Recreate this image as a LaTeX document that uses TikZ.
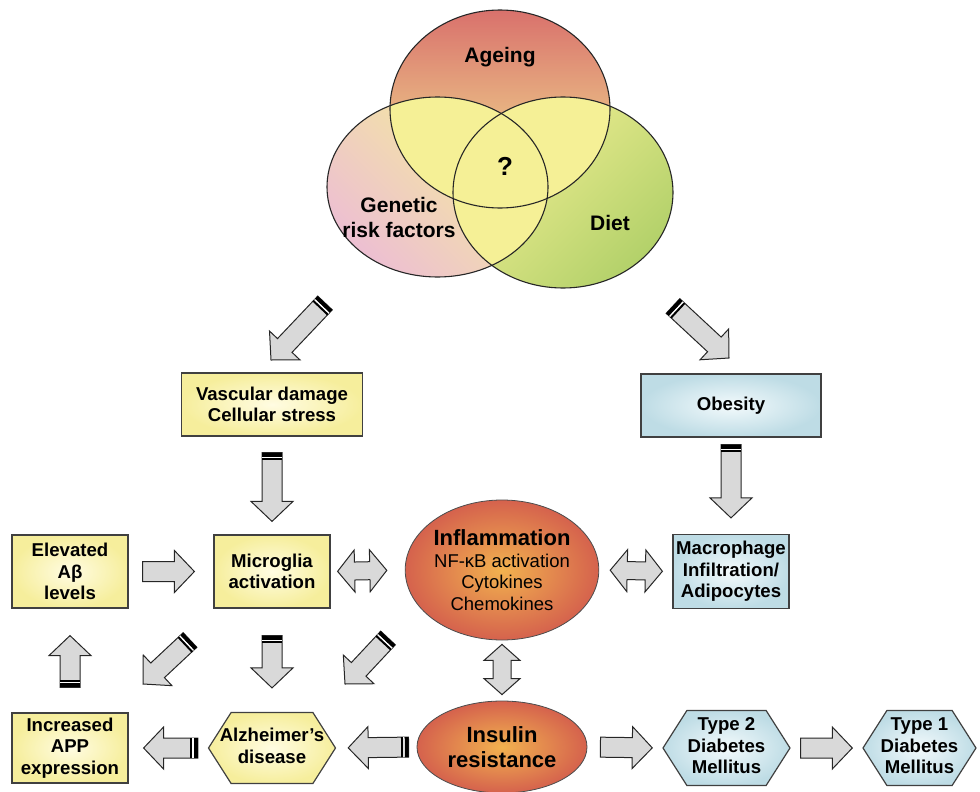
\documentclass[tikz,border=0pt]{standalone}
\usepackage{fontspec}
\setmainfont{Liberation Sans}
\usetikzlibrary{calc,shapes.geometric,shapes.symbols}

\definecolor{vennred}{HTML}{D9716C}
\definecolor{vennorange}{HTML}{F0C07C}
\definecolor{vennyel}{HTML}{F5F096}
\definecolor{vennpink}{HTML}{EDBFD2}
\definecolor{venngreen}{HTML}{B3D16A}
\definecolor{boxyel}{HTML}{F6EE9C}
\definecolor{boxyelin}{HTML}{FFFCE2}
\definecolor{boxblu}{HTML}{BEDCE5}
\definecolor{boxbluin}{HTML}{F3FAFC}
\definecolor{redout}{HTML}{D5624D}
\definecolor{redin}{HTML}{F2B24F}
\definecolor{arrowgray}{HTML}{D9D9D9}

\newif\iffatbands
\newif\iffattwo
\tikzset{
  tail gap/.store in=\fattail,
  tip gap/.store in=\fattip,
  fat gap/.style={tail gap=#1,tip gap=#1},
  shaft/.store in=\fatshaft,
  head/.store in=\fathead,
  head len/.store in=\fatlen,
  bands/.code={\fatbandstrue},
  both ends/.code={\fattwotrue},
  fatbody/.style={fill=arrowgray,draw=black!85,line width=1pt},
  boxtext/.style={font=\bfseries\fontsize{18.6}{21.5}\selectfont,align=center,inner sep=1pt},
  yelbox/.style={boxtext,rectangle,draw=black!75,line width=1.2pt,inner color=boxyelin,outer color=boxyel},
  blubox/.style={yelbox,inner color=boxbluin,outer color=boxblu},
  yelhex/.style={yelbox,signal,signal to=east and west,signal pointer angle=115},
  bluhex/.style={blubox,signal,signal to=east and west,signal pointer angle=115},
  redell/.style={ellipse,draw=black!70,line width=0.8pt,inner color=redin,outer color=redout,align=center,inner sep=0pt},
  venn/.style={draw=black!85,line width=1.1pt},
  vennlbl/.style={font=\bfseries\fontsize{21}{25}\selectfont,align=center},
}

% block arrow from #2 to #3
\newcommand{\fatarrow}[3][]{%
  \fatbandsfalse\fattwofalse
  \begin{scope}[fat gap=0pt,shaft=10pt,head=21pt,head len=20pt,#1]
    \coordinate (fa) at ($(#2)!\fattail!(#3)$);
    \coordinate (fb) at ($(#3)!\fattip!(#2)$);
    \coordinate (hb) at ($(fb)!\fatlen!(fa)$);
    \iffattwo
      \coordinate (ha) at ($(fa)!\fatlen!(fb)$);
      \draw[fatbody] (fa) -- ($(ha)!\fathead!90:(fb)$) -- ($(ha)!\fatshaft!90:(fb)$)
        -- ($(hb)!\fatshaft!90:(fb)$) -- ($(hb)!\fathead!90:(fb)$) -- (fb)
        -- ($(hb)!\fathead!-90:(fb)$) -- ($(hb)!\fatshaft!-90:(fb)$)
        -- ($(ha)!\fatshaft!-90:(fb)$) -- ($(ha)!\fathead!-90:(fb)$) -- cycle;
    \else
      \draw[fatbody] ($(fa)!\fatshaft!90:(fb)$) -- ($(hb)!\fatshaft!90:(fb)$)
        -- ($(hb)!\fathead!90:(fb)$) -- (fb) -- ($(hb)!\fathead!-90:(fb)$)
        -- ($(hb)!\fatshaft!-90:(fb)$) -- ($(fa)!\fatshaft!-90:(fb)$) -- cycle;
    \fi
    \iffatbands
      \coordinate (b1) at ($(fa)!4pt!(fb)$);
      \coordinate (b2) at ($(fa)!5.5pt!(fb)$);
      \coordinate (b3) at ($(fa)!7.5pt!(fb)$);
      \fill[black] ($(fa)!\fatshaft!90:(fb)$) -- ($(b1)!\fatshaft!90:(fb)$)
        -- ($(b1)!\fatshaft!-90:(fb)$) -- ($(fa)!\fatshaft!-90:(fb)$) -- cycle;
      \fill[white] ($(b1)!\fatshaft!90:(fb)$) -- ($(b2)!\fatshaft!90:(fb)$)
        -- ($(b2)!\fatshaft!-90:(fb)$) -- ($(b1)!\fatshaft!-90:(fb)$) -- cycle;
      \fill[black] ($(b2)!\fatshaft!90:(fb)$) -- ($(b3)!\fatshaft!90:(fb)$)
        -- ($(b3)!\fatshaft!-90:(fb)$) -- ($(b2)!\fatshaft!-90:(fb)$) -- cycle;
    \fi
  \end{scope}}
\newcommand{\hexlbl}[1]{\makebox[0pt]{\begin{tabular}{@{}c@{}}#1\end{tabular}}}

\begin{document}
\begin{tikzpicture}[x=1pt,y=-1pt]
  \useasboundingbox (0,0) rectangle (980,792);

  % risk factors
  \shade[top color=vennyel,bottom color=vennpink,shading angle=-45] (437.5,187) ellipse [x radius=110.5,y radius=90];
  \shade[top color=vennyel,bottom color=venngreen,shading angle=45] (563,192.5) ellipse [x radius=110,y radius=95.5];
  \shade[top color=vennred,middle color=vennorange,bottom color=vennyel] (500,109) ellipse [x radius=110,y radius=99];
  \begin{scope}
    \clip (500,109) ellipse [x radius=110,y radius=99];
    \fill[vennyel] (437.5,187) ellipse [x radius=110.5,y radius=90];
    \fill[vennyel] (563,192.5) ellipse [x radius=110,y radius=95.5];
  \end{scope}
  \begin{scope}
    \clip (437.5,187) ellipse [x radius=110.5,y radius=90];
    \fill[vennyel] (563,192.5) ellipse [x radius=110,y radius=95.5];
  \end{scope}
  \draw[venn] (437.5,187) ellipse [x radius=110.5,y radius=90];
  \draw[venn] (563,192.5) ellipse [x radius=110,y radius=95.5];
  \draw[venn] (500,109) ellipse [x radius=110,y radius=99];
  \node[vennlbl] (agelbl) at (500,57) {Ageing};
  \node[vennlbl,font=\bfseries\fontsize{26}{30}\selectfont] (qlbl) at (505,166) {?};
  \node[vennlbl] (genlbl) at (399,217) {Genetic\\risk factors};
  \node[vennlbl] (dietlbl) at (610,223) {Diet};

  % boxes
  \node[yelbox,minimum width=181pt,minimum height=63pt] (vasc) at (272,404.5) {Vascular damage\\Cellular stress};
  \node[blubox,minimum width=180pt,minimum height=63pt] (obes) at (731,405.5) {Obesity};
  \node[yelbox,minimum width=116pt,minimum height=73pt] (abeta) at (70,571.5) {Elevated\\Aβ\\levels};
  \node[yelbox,minimum width=116pt,minimum height=73pt] (micro) at (272,571.5) {Microglia\\activation};
  \node[redell,minimum width=188pt,minimum height=140pt,font=\fontsize{18.5}{21.5}\selectfont] (infl) at (502,570)
    {{\bfseries\fontsize{22}{24}\selectfont Inflammation}\\NF-κB activation\\Cytokines\\Chemokines};
  \node[blubox,minimum width=116pt,minimum height=74pt] (macro) at (731,571.5) {Macrophage\\Infiltration/\\Adipocytes};
  \node[yelbox,minimum width=116pt,minimum height=70pt] (app) at (70,748) {Increased\\APP\\expression};
  \node[yelhex,minimum width=127pt,minimum height=71pt] (alz) at (272,748) {\hexlbl{Alzheimer's\\disease}};
  \node[redell,minimum width=170pt,minimum height=92pt,font=\bfseries\fontsize{22}{25}\selectfont] (ins) at (502,747) {Insulin\\resistance};
  \node[bluhex,minimum width=127pt,minimum height=75pt] (t2) at (726.5,748) {\hexlbl{Type 2\\Diabetes\\Mellitus}};
  \node[bluhex,minimum width=113pt,minimum height=75pt] (t1) at (919.5,748) {\hexlbl{Type 1\\Diabetes\\Mellitus}};

  % free ends of the slanted arrows
  \coordinate (vennL) at (325,303);
  \coordinate (vascin) at (271,360);
  \coordinate (vennR) at (673,306);
  \coordinate (obesin) at (729,358);
  \coordinate (mgout) at (190,640);
  \coordinate (appin) at (143,684);
  \coordinate (inflout) at (388,638);
  \coordinate (alzin) at (345,684);

  % arrows
  \fatarrow[bands]{vennL}{vascin}
  \fatarrow[bands]{vennR}{obesin}
  \fatarrow[bands,tail gap=16pt,tip gap=13pt]{vasc.south}{micro.north}
  \fatarrow[bands,tail gap=7pt,tip gap=16pt]{obes.south}{macro.north}
  \fatarrow[tail gap=14pt,tip gap=19pt]{abeta.east}{micro.west}
  \fatarrow[both ends,shaft=9pt,head len=17pt,tail gap=7pt,tip gap=18pt]{micro.east}{infl.west}
  \fatarrow[both ends,shaft=9pt,head len=17pt,tail gap=11pt,tip gap=10pt]{infl.east}{macro.west}
  \fatarrow[both ends,shaft=9pt,head=18pt,head len=16pt,tail gap=4pt,tip gap=6pt]{infl.south}{ins.north}
  \fatarrow[bands,tail gap=25pt,tip gap=27pt]{app.north}{abeta.south}
  \fatarrow[bands]{mgout}{appin}
  \fatarrow[bands,tail gap=27pt,tip gap=24pt]{micro.south}{alz.north}
  \fatarrow[bands]{inflout}{alzin}
  \fatarrow[bands,tail gap=8pt,tip gap=12pt]{ins.west}{alz.east}
  \fatarrow[bands,tail gap=10pt,tip gap=15pt]{alz.west}{app.east}
  \fatarrow[tail gap=13pt,tip gap=10pt]{ins.east}{t2.west}
  \fatarrow[tail gap=10pt,tip gap=10pt]{t2.east}{t1.west}
\end{tikzpicture}
\end{document}
